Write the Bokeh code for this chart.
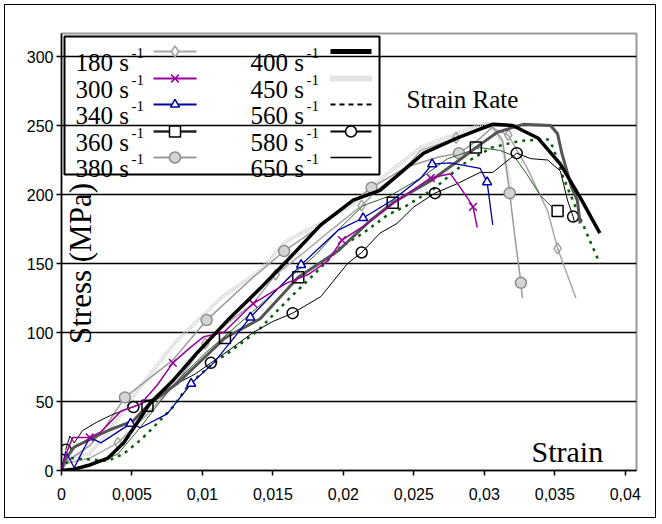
import math
from bokeh.plotting import figure
from bokeh.models import Range1d, FixedTicker, Label, BoxAnnotation
from bokeh.embed import file_html
from bokeh.resources import INLINE

# ---------------- data ----------------
rate_labels = ["180", "300", "340", "360", "380", "400", "450", "560", "580", "650"]

x_ticks = [0, 0.005, 0.01, 0.015, 0.02, 0.025, 0.03, 0.035, 0.04]
x_tick_labels = ["0", "0,005", "0,01", "0,015", "0,02", "0,025", "0,03", "0,035", "0,04"]
y_ticks = [0, 50, 100, 150, 200, 250, 300]

s180_x = [0, 0.0003, 0.002, 0.004, 0.0061, 0.0084, 0.0102, 0.0118, 0.0136, 0.0152, 0.0172, 0.0191,
          0.0213, 0.0226, 0.0243, 0.0255, 0.028, 0.0304, 0.0317, 0.033, 0.0345, 0.0352, 0.0365]
s180_y = [0, 5, 9, 20, 41, 67, 92, 107, 121, 142, 158, 174, 192, 205, 218, 232, 241, 249, 243, 220, 188, 161, 125]
m180_x = [0.004, 0.0102, 0.0152, 0.0213, 0.028, 0.0317, 0.0352]
m180_y = [20, 92, 142, 192, 241, 243, 161]

s300_x = [0, 0.0002, 0.0004, 0.0008, 0.002, 0.0028, 0.0042, 0.0056, 0.0068, 0.0079, 0.009, 0.0101, 0.0115,
          0.0136, 0.016, 0.0175, 0.0189, 0.0199, 0.0217, 0.0236, 0.0262, 0.0276, 0.0283, 0.0289, 0.0292, 0.0295]
s300_y = [0, 8, 14, 24, 24, 28, 43, 48, 62, 78, 88, 97, 100, 121, 136, 142, 152, 167, 179, 194, 212, 215, 205,
          196, 191, 176]
m300_x = [0.002, 0.0079, 0.0136, 0.0199, 0.0262, 0.0292]
m300_y = [24, 78, 121, 167, 212, 191]

s340_x = [0, 0.0003, 0.0009, 0.002, 0.0028, 0.0049, 0.0056, 0.0075, 0.0092, 0.0108, 0.0134, 0.015, 0.017,
          0.0196, 0.0214, 0.0235, 0.0255, 0.0263, 0.0276, 0.0297, 0.0302, 0.0306]
s340_y = [0, 14, 2, 24, 20, 34, 31, 41, 63, 78, 111, 128, 149, 174, 183, 196, 212, 222, 223, 219, 209, 178]
m340_x = [0.0049, 0.0092, 0.0134, 0.017, 0.0214, 0.0263, 0.0302]
m340_y = [34, 63, 111, 149, 183, 222, 209]

s360_x = [0, 0.0002, 0.0009, 0.0033, 0.0051, 0.0061, 0.0082, 0.0116, 0.0141, 0.0168, 0.0196, 0.0219, 0.0235,
          0.0262, 0.0285, 0.0294, 0.0309, 0.0328, 0.0347, 0.0352, 0.0355, 0.0362, 0.0366, 0.0368]
s360_y = [0, 7, 17, 29, 36, 47, 63, 96, 110, 140, 159, 181, 194, 210, 227, 234, 245, 251, 250, 244, 230, 205,
          196, 179]
m360_x = [0.0061, 0.0116, 0.0168, 0.0235, 0.0294, 0.0352]
m360_y = [47, 96, 140, 194, 234, 188]

s380_x = [0, 0.0003, 0.002, 0.003, 0.0045, 0.0079, 0.0103, 0.0136, 0.0158, 0.0189, 0.022, 0.0245, 0.0267,
          0.0282, 0.0295, 0.0306, 0.0313, 0.0318, 0.0322, 0.0326, 0.0327]
s380_y = [0, 6, 18, 30, 53, 80, 109, 140, 159, 181, 205, 220, 227, 230, 239, 249, 239, 201, 167, 136, 125]
m380_x = [0.0045, 0.0103, 0.0158, 0.022, 0.0282, 0.0318, 0.0326]
m380_y = [53, 109, 159, 205, 230, 201, 136]

s400_x = [0, 0.0009, 0.002, 0.0033, 0.0044, 0.0056, 0.0063, 0.0079, 0.0096, 0.0118, 0.0141, 0.016, 0.0184,
          0.0207, 0.0226, 0.0257, 0.0281, 0.0306, 0.032, 0.0338, 0.0354, 0.0368, 0.0382]
s400_y = [0, 1, 4, 9, 20, 38, 49, 65, 85, 109, 132, 152, 178, 196, 203, 230, 241, 251, 250, 241, 222, 198, 172]

s450_x = [0, 0.0004, 0.002, 0.0035, 0.0054, 0.008, 0.0113, 0.0141, 0.0158, 0.017, 0.0184, 0.0207, 0.0231,
          0.0255, 0.0267, 0.0285, 0.0302, 0.0311, 0.0316, 0.032]
s450_y = [0, 9, 12, 30, 58, 92, 125, 145, 165, 172, 179, 193, 215, 234, 239, 246, 252, 241, 220, 196]

s560_x = [0, 0.0006, 0.0033, 0.0044, 0.0056, 0.0063, 0.0079, 0.0091, 0.0108, 0.0118, 0.0139, 0.016, 0.0182,
          0.0198, 0.0214, 0.0231, 0.0245, 0.0264, 0.0285, 0.0305, 0.0326, 0.0345, 0.0349, 0.0355, 0.0368, 0.0382]
s560_y = [0, 9, 7, 12, 22, 29, 46, 63, 78, 85, 101, 123, 145, 162, 172, 185, 192, 204, 222, 234, 239, 240, 234,
          215, 183, 150]

s580_x = [0.0003, 0.0006, 0.0009, 0.0015, 0.0025, 0.0035, 0.0045, 0.0051, 0.0065, 0.008, 0.0095, 0.0106, 0.012,
          0.0136, 0.015, 0.0164, 0.0184, 0.0203, 0.0213, 0.0226, 0.0238, 0.025, 0.0265, 0.0281, 0.0297, 0.0306,
          0.0323, 0.0333, 0.0345, 0.0354, 0.0359, 0.0363, 0.0364]
s580_y = [15, 25, 20, 29, 35, 40, 44, 46, 52, 62, 70, 78, 88, 100, 108, 114, 126, 150, 158, 172, 179, 191, 201,
          208, 216, 216, 230, 226, 225, 217, 196, 184, 180]
m580_x = [0.0003, 0.0051, 0.0106, 0.0164, 0.0213, 0.0265, 0.0323, 0.0363]
m580_y = [15, 46, 78, 114, 158, 201, 230, 184]

s650_x = [0, 0.002, 0.004, 0.0055, 0.007, 0.0085, 0.0103, 0.012, 0.014, 0.016, 0.018, 0.0198, 0.0214, 0.0233,
          0.0255, 0.0274, 0.0297, 0.0311, 0.0321, 0.033, 0.034, 0.0348]
s650_y = [0, 3, 12, 30, 50, 68, 86, 101, 119, 138, 156, 176, 192, 199, 212, 226, 234, 232, 228, 215, 199, 191]

# ---------------- styles ----------------
SERIF = "Liberation Serif"
SANS = "Liberation Sans"

series = {
    "180": dict(x=s180_x, y=s180_y, mx=m180_x, my=m180_y, color="#A8A8A8", width=1.5, dash="solid",
                marker="diamond", msize=11, mline="#A0A0A0", mfill=None, key_color="#A8A8A8", key_width=2, key_dash="solid"),
    "300": dict(x=s300_x, y=s300_y, mx=m300_x, my=m300_y, color="#990099", width=1.5, dash="solid",
                marker="x", msize=11, mline="#990099", mfill=None, key_color="#990099", key_width=2, key_dash="solid"),
    "340": dict(x=s340_x, y=s340_y, mx=m340_x, my=m340_y, color="#00009C", width=1.3, dash="solid",
                marker="triangle", msize=9, mline="#00009C", mfill="white", key_color="#00009C", key_width=2, key_dash="solid"),
    "360": dict(x=s360_x, y=s360_y, mx=m360_x, my=m360_y, color="#555555", width=3, dash="solid",
                marker="square", msize=11, mline="black", mfill=None, key_color="#222222", key_width=2.5, key_dash="solid"),
    "380": dict(x=s380_x, y=s380_y, mx=m380_x, my=m380_y, color="#9A9A9A", width=1.5, dash="solid",
                marker="circle", msize=11, mline="#8C8C8C", mfill="#D4D4D4", key_color="#9A9A9A", key_width=2, key_dash="solid"),
    "400": dict(x=s400_x, y=s400_y, mx=None, my=None, color="black", width=3.5, dash="solid",
                marker=None, key_color="black", key_width=5, key_dash="solid"),
    "450": dict(x=s450_x, y=s450_y, mx=None, my=None, color="#CFCFCF", width=4, dash="1 1",
                marker=None, key_color="#C8C8C8", key_width=6, key_dash="1 1"),
    "560": dict(x=s560_x, y=s560_y, mx=None, my=None, color="#0B5D0B", width=2.5, dash="3 5",
                marker=None, key_color="black", key_width=2, key_dash="5 4"),
    "580": dict(x=s580_x, y=s580_y, mx=m580_x, my=m580_y, color="black", width=1, dash="solid",
                marker="circle", msize=11, mline="black", mfill=None, key_color="black", key_width=2, key_dash="solid"),
    "650": dict(x=s650_x, y=s650_y, mx=None, my=None, color="#2A5E2A", width=1, dash="solid",
                marker=None, key_color="black", key_width=1.5, key_dash="solid"),
}
draw_order = ["450", "180", "380", "650", "560", "580", "360", "340", "300", "400"]

# ---------------- figure ----------------
X0, X1 = 0.0, 0.0408
Y0, Y1 = 0.0, 316.7
W, H = 660, 522
BL, BR, BT, BB = 61, 24, 33, 52
FW, FH = W - BL - BR, H - BT - BB
PAGE_L, PAGE_B = BL, BT + FH   # frame left / bottom in pixels

p = figure(width=W, height=H, output_backend="svg", toolbar_location=None,
           x_range=Range1d(X0, X1), y_range=Range1d(Y0, Y1),
           min_border_left=BL, min_border_right=BR, min_border_top=BT, min_border_bottom=BB)
p.styles = {"outline": "1.5px solid black", "outline-offset": "-5px"}
p.background_fill_color = "white"
p.border_fill_color = None
p.outline_line_color = "#999999"
p.outline_line_width = 2

p.xaxis.ticker = FixedTicker(ticks=x_ticks)
p.xaxis.major_label_overrides = {t: l for t, l in zip(x_ticks, x_tick_labels)}
p.yaxis.ticker = FixedTicker(ticks=y_ticks)
for ax in (p.xaxis[0], p.yaxis[0]):
    ax.axis_line_color = "black"
    ax.axis_line_width = 1.5
    ax.major_tick_line_color = "black"
    ax.major_tick_line_width = 1.5
    ax.major_tick_out = 5
    ax.major_tick_in = 0
    ax.minor_tick_line_color = None
    ax.major_label_text_font = SANS
    ax.major_label_text_font_size = "16px"
    ax.major_label_text_color = "black"
p.xaxis.major_label_standoff = 12
p.yaxis.major_label_standoff = 3

p.xgrid.visible = False
p.ygrid.ticker = FixedTicker(ticks=y_ticks)
p.ygrid.grid_line_color = "black"
p.ygrid.grid_line_width = 1.5

# ---------------- curves ----------------
for key in draw_order:
    s = series[key]
    p.line(s["x"], s["y"], line_color=s["color"], line_width=s["width"], line_dash=s["dash"])
    if s["marker"]:
        p.scatter(s["mx"], s["my"], marker=s["marker"], size=s["msize"], line_color=s["mline"],
                  line_width=1.5, fill_color=s["mfill"] if s["mfill"] else None,
                  fill_alpha=1 if s["mfill"] else 0)

# ---------------- helpers: pixels -> data / screen ----------------
def dx(px):
    return X0 + (px - PAGE_L) / FW * (X1 - X0)

def dy(py):
    return Y0 + (PAGE_B - py) / FH * (Y1 - Y0)

def sx(px):
    return px - PAGE_L

def sy(py):
    return PAGE_B - py

# ---------------- legend (label left, key right) ----------------
p.add_layout(BoxAnnotation(left=sx(64), right=sx(379), top=sy(36), bottom=sy(174),
                           left_units="screen", right_units="screen", top_units="screen", bottom_units="screen",
                           fill_alpha=0, line_color="black", line_alpha=1, line_width=2))
row_base = [62, 89, 115, 142, 168]
col_text = [75, 250]
col_sup = [131, 306]
col_key = [(153, 196), (330, 371)]
for i, key in enumerate(rate_labels):
    col, row = divmod(i, 5)
    base = row_base[row]
    s = series[key]
    p.add_layout(Label(x=sx(col_text[col]), y=sy(base), x_units="screen", y_units="screen",
                       text=f"{key} s", text_font=SERIF, text_font_size="25px",
                       text_baseline="alphabetic", text_align="left", text_color="black"))
    p.add_layout(Label(x=sx(col_sup[col]), y=sy(base - 10), x_units="screen", y_units="screen",
                       text="-1", text_font=SERIF, text_font_size="15px",
                       text_baseline="alphabetic", text_align="left", text_color="black"))
    k0, k1 = col_key[col]
    ky = base - 11
    p.line([dx(k0), dx(k1)], [dy(ky), dy(ky)], line_color=s["key_color"], line_width=s["key_width"],
           line_dash=s["key_dash"])
    if s["marker"]:
        p.scatter([dx((k0 + k1) / 2)], [dy(ky)], marker=s["marker"], size=s["msize"], line_color=s["mline"],
                  line_width=1.5, fill_color=s["mfill"] if s["mfill"] else "white")

# ---------------- titles ----------------
p.add_layout(Label(x=sx(80), y=sy(263), x_units="screen", y_units="screen", text="Stress (MPa)",
                   angle=math.pi / 2, text_font=SERIF, text_font_size="31px",
                   text_align="center", text_baseline="middle", text_color="black"))
p.add_layout(Label(x=sx(531), y=sy(451), x_units="screen", y_units="screen", text="Strain",
                   text_font=SERIF, text_font_size="30px", text_baseline="alphabetic", text_color="black"))
p.add_layout(Label(x=sx(406), y=sy(99), x_units="screen", y_units="screen", text="Strain Rate",
                   text_font=SERIF, text_font_size="25px", text_baseline="alphabetic", text_color="black"))

open("out.html", "w").write(file_html(p, INLINE))
